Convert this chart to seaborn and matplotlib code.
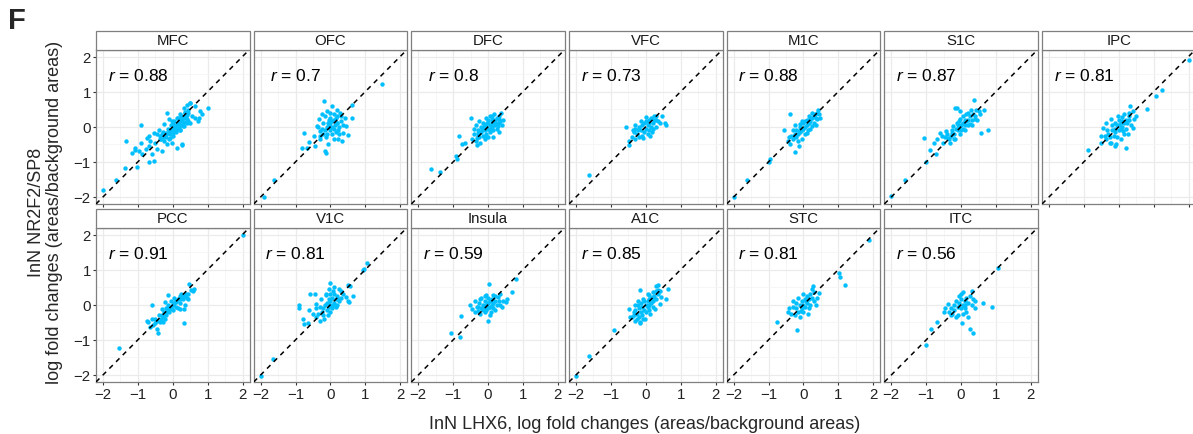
import matplotlib
matplotlib.use("Agg")
import matplotlib.pyplot as plt
import numpy as np
import pandas as pd
import seaborn as sns
from matplotlib.patches import Rectangle

# ---------------- data ----------------
areas = ["MFC", "OFC", "DFC", "VFC", "M1C", "S1C", "IPC",
         "PCC", "V1C", "Insula", "A1C", "STC", "ITC"]
r_values = [0.88, 0.7, 0.8, 0.73, 0.88, 0.87, 0.81,
            0.91, 0.81, 0.59, 0.85, 0.81, 0.56]
tick_values = [-2, -1, 0, 1, 2]
tick_labels = ["\u22122", "\u22121", "0", "1", "2"]

MFC = [(-2.0, -1.81), (-1.64, -1.53), (-1.36, -1.17), (-1.03, -1.15), (-1.33, -0.40), (-0.92, 0.04),
       (-0.68, -1.0), (-0.54, -0.97), (0.27, -0.52), (1.01, 0.52), (0.49, 0.68), (0.75, 0.26), (0.5, 0.11),
       (-1.07, -0.6), (-0.92, -0.47), (-0.97, -0.69), (-1.08, -0.67), (-0.88, -0.79), (-1.16, -0.74),
       (-0.78, -0.64), (-0.69, -0.55), (-0.64, -0.41), (-0.73, -0.31), (-0.5, -0.46), (-0.45, -0.64),
       (-0.59, -0.79), (-0.31, -0.69), (-0.26, -0.41), (-0.36, -0.27), (-0.2, -0.17), (-0.07, -0.31),
       (-0.17, -0.5), (-0.03, -0.46), (0.12, -0.6), (0.26, -0.5), (0.02, -0.17), (0.07, -0.03),
       (0.16, 0.11), (0.26, 0.21), (0.35, 0.40), (0.45, 0.49), (0.5, 0.68), (0.64, 0.59), (0.54, 0.3),
       (0.4, 0.11), (0.31, 0.02), (0.21, -0.08), (-0.17, 0.4), (-0.12, 0.21), (-0.26, 0.07), (-0.4, -0.08),
       (-0.55, -0.17), (-0.69, -0.27), (0.78, 0.44), (0.83, 0.35), (0.73, 0.16), (0.64, 0.26), (0.12, 0.26),
       (0.21, 0.35), (0.31, 0.54), (0.4, 0.63), (0.0, 0.07), (-0.31, -0.22), (-0.45, -0.22), (-0.36, -0.36),
       (-0.25, -0.28), (-0.2, -0.22), (-0.15, -0.18), (-0.1, -0.12), (-0.05, -0.08), (0.0, -0.02),
       (0.05, 0.02), (0.1, 0.06), (0.15, 0.12), (0.2, 0.17), (0.25, 0.22), (0.3, 0.26), (0.35, 0.3),
       (0.4, 0.33), (0.45, 0.38), (-0.18, -0.3), (-0.08, -0.22), (0.02, -0.12), (0.12, -0.04), (0.22, 0.05),
       (0.32, 0.14), (0.42, 0.22), (-0.28, -0.15), (-0.15, -0.05), (-0.05, 0.05), (0.05, 0.15), (0.15, 0.25),
       (0.25, 0.32), (0.35, 0.42), (0.0, -0.25), (-0.1, -0.35), (0.1, -0.15), (0.2, -0.1), (0.3, 0.02),
       (0.45, 0.15), (-0.35, -0.35), (0.18, 0.0), (0.28, 0.12), (0.38, 0.24), (-0.02, 0.15), (0.08, -0.1)]

OFC = [(-1.9, -2.0), (-1.62, -1.53), (1.48, 1.23), (-0.17, 0.73), (-0.75, -0.17), (-0.13, -0.74),
       (0.62, 0.61), (0.51, -0.24), (0.63, 0.24), (-0.48, -0.27), (-0.6, -0.44), (-0.67, -0.6),
       (-0.81, -0.6), (-0.43, -0.55), (-0.29, -0.36), (-0.15, -0.69), (-0.06, -0.5), (0.09, -0.36),
       (0.23, -0.36), (0.32, -0.41), (0.37, -0.17), (0.46, 0.02), (0.42, 0.26), (0.27, 0.4), (0.18, 0.49),
       (0.04, 0.59), (-0.1, 0.45), (-0.25, 0.35), (-0.34, 0.21), (-0.39, 0.02), (-0.29, -0.12),
       (-0.2, -0.2), (-0.15, -0.1), (-0.1, 0.0), (-0.05, 0.05), (0.0, 0.1), (0.05, 0.15), (0.1, 0.2),
       (0.15, 0.25), (0.2, 0.1), (0.25, 0.0), (0.1, -0.05), (0.0, -0.1), (-0.1, -0.2), (0.05, -0.2),
       (0.15, -0.15), (0.3, 0.15), (-0.2, 0.1), (-0.25, -0.05), (0.0, 0.25), (-0.05, 0.2), (0.1, 0.35),
       (0.2, 0.3), (0.3, 0.3), (-0.3, -0.25), (0.25, -0.2), (0.05, 0.0), (-0.12, -0.3), (0.12, 0.05),
       (-0.02, -0.02), (0.18, 0.12), (-0.08, 0.12), (0.22, -0.08), (0.35, 0.05), (-0.35, 0.0),
       (0.0, 0.4), (-0.15, 0.3)]

DFC = [(-1.64, -1.21), (-1.38, -1.29), (-0.92, -0.84), (-0.9, -0.93), (-0.84, -0.25), (-0.76, -0.48),
       (-0.65, -0.46), (-0.48, 0.26), (0.38, 0.4), (-0.31, -0.53), (-0.45, -0.35), (-0.4, -0.2),
       (-0.35, -0.4), (-0.3, -0.25), (-0.3, -0.1), (-0.25, -0.3), (-0.2, -0.15), (-0.2, 0.0), (-0.15, -0.25),
       (-0.15, 0.1), (-0.1, -0.1), (-0.1, 0.05), (-0.05, -0.2), (-0.05, 0.0), (0.0, -0.05), (0.0, 0.1),
       (0.0, 0.2), (0.05, -0.15), (0.05, 0.05), (0.1, 0.0), (0.1, 0.15), (0.1, 0.3), (0.15, -0.1),
       (0.15, 0.1), (0.2, 0.05), (0.2, 0.2), (0.25, 0.25), (0.25, -0.05), (0.3, 0.1), (0.3, 0.3),
       (0.35, 0.15), (0.4, 0.05), (0.42, 0.2), (-0.35, 0.05), (-0.25, 0.15), (-0.4, -0.05), (0.05, 0.3),
       (-0.05, 0.25), (0.15, -0.3), (0.3, -0.15), (-0.1, -0.35), (0.0, -0.3), (-0.22, -0.45), (0.18, 0.35),
       (0.08, -0.05), (-0.12, -0.02), (0.22, 0.12), (-0.28, -0.18), (0.32, 0.22), (-0.02, 0.12),
       (-0.18, -0.08), (0.12, 0.22), (-0.08, -0.28), (0.28, 0.02), (-0.32, -0.32)]

VFC = [(-1.62, -1.38), (-0.57, -0.01), (-0.48, -0.41), (-0.49, -0.52), (0.46, 0.3), (0.58, 0.05),
       (0.55, 0.12), (0.3, 0.32), (-0.4, -0.3), (-0.35, -0.15), (-0.3, -0.35), (-0.3, -0.05), (-0.25, -0.2),
       (-0.2, -0.3), (-0.2, 0.0), (-0.15, -0.1), (-0.1, -0.25), (-0.1, 0.05), (-0.05, -0.15), (-0.05, 0.1),
       (0.0, -0.05), (0.0, 0.15), (0.05, -0.2), (0.05, 0.05), (0.1, 0.2), (0.1, -0.1), (0.15, 0.0),
       (0.15, 0.25), (0.2, 0.1), (0.2, -0.05), (0.25, 0.2), (0.25, 0.3), (0.3, 0.0), (0.35, 0.15),
       (-0.38, -0.1), (-0.15, 0.15), (0.0, 0.28), (0.12, -0.25), (-0.08, -0.33), (0.08, 0.12),
       (-0.22, -0.1), (0.3, 0.2), (0.4, 0.1), (-0.3, 0.05), (0.18, -0.15)]

M1C = [(-2.0, -2.0), (-1.62, -1.53), (-1.0, -1.0), (-0.95, -0.91), (-0.24, -0.72), (-0.57, -0.08),
       (-0.38, 0.35), (0.47, 0.26), (-0.43, -0.41), (-0.38, -0.5), (-0.28, -0.27), (-0.14, -0.12),
       (-0.09, 0.07), (0.05, 0.16), (0.19, 0.26), (0.33, 0.35), (0.38, 0.21), (0.24, 0.02), (0.09, -0.17),
       (-0.05, -0.36), (-0.14, -0.55), (-0.3, -0.35), (-0.25, -0.2), (-0.2, -0.3), (-0.2, -0.1),
       (-0.15, -0.2), (-0.1, -0.15), (-0.1, 0.0), (-0.05, -0.1), (0.0, -0.05), (0.0, 0.1), (0.05, 0.0),
       (0.1, 0.05), (0.1, 0.2), (0.15, 0.1), (0.2, 0.15), (0.25, 0.25), (0.3, 0.3), (0.35, 0.25),
       (0.4, 0.4), (0.45, 0.35), (-0.35, -0.25), (-0.3, -0.1), (-0.05, 0.15), (0.15, 0.3), (0.2, -0.05),
       (0.3, 0.12), (-0.15, -0.4), (0.05, -0.2), (0.25, 0.4), (0.42, 0.48), (-0.42, -0.3), (-0.25, 0.05),
       (0.12, -0.08), (0.35, 0.05)]

S1C = [(-2.0, -1.98), (-1.62, -1.53), (-1.01, -1.0), (-1.07, -0.31), (-0.89, -0.65), (-0.72, -0.77),
       (0.37, 0.76), (0.77, -0.1), (0.56, -0.17), (0.67, 0.49), (-0.18, 0.53), (-0.61, -0.17), (-0.7, -0.36),
       (-0.51, -0.45), (-0.37, -0.31), (-0.42, -0.12), (-0.27, -0.17), (-0.23, 0.02), (-0.13, 0.11),
       (-0.04, 0.21), (0.06, 0.3), (0.2, 0.4), (0.29, 0.49), (0.43, 0.49), (0.53, 0.35), (0.39, 0.21),
       (0.25, 0.07), (0.1, -0.08), (-0.04, -0.22), (-0.18, -0.36), (-0.32, -0.45), (-0.13, 0.54),
       (-0.04, 0.45), (-0.79, -0.45), (-0.3, -0.25), (-0.25, -0.1), (-0.2, -0.2), (-0.15, -0.05),
       (-0.1, -0.1), (-0.1, 0.05), (-0.05, 0.0), (0.0, 0.05), (0.0, -0.1), (0.05, 0.1), (0.1, 0.05),
       (0.1, 0.2), (0.15, 0.15), (0.2, 0.2), (0.2, 0.05), (0.25, 0.3), (0.3, 0.2), (0.35, 0.35),
       (-0.35, -0.35), (-0.4, -0.2), (0.4, 0.3), (0.45, 0.2), (-0.05, 0.15), (0.3, 0.05), (-0.2, -0.35),
       (0.05, -0.05), (0.15, 0.35), (-0.45, -0.3), (0.5, 0.45), (-0.55, -0.25)]

IPC = [(2.0, 1.9), (1.23, 1.04), (1.08, 0.87), (0.82, 0.51), (0.33, 0.59), (-0.88, -0.66), (0.21, -0.61),
       (-0.5, -0.45), (0.5, 0.3), (0.4, 0.45), (-0.45, -0.03), (-0.5, -0.27), (-0.36, -0.36), (-0.22, -0.45),
       (-0.08, -0.5), (0.07, -0.36), (0.26, -0.22), (0.4, -0.03), (0.44, 0.21), (0.3, 0.4), (0.16, 0.35),
       (-0.03, 0.3), (-0.22, 0.21), (-0.36, 0.11), (-0.12, -0.55), (-0.3, -0.2), (-0.25, -0.3), (-0.2, -0.1),
       (-0.15, -0.25), (-0.1, -0.05), (-0.1, -0.15), (-0.05, 0.05), (0.0, -0.1), (0.0, 0.05), (0.05, 0.1),
       (0.05, -0.05), (0.1, 0.0), (0.1, 0.15), (0.15, 0.1), (0.2, 0.2), (0.2, -0.05), (0.25, 0.1),
       (0.3, 0.2), (-0.35, -0.1), (-0.2, 0.05), (0.0, 0.2), (-0.05, -0.3), (0.15, -0.2), (0.35, 0.05),
       (-0.4, -0.25), (0.08, 0.28), (-0.12, 0.12), (0.28, 0.3), (0.12, -0.12), (-0.25, -0.45)]

PCC = [(2.0, 2.0), (-1.55, -1.23), (-0.59, -0.02), (0.31, -0.52), (0.48, 0.58), (0.6, 0.46), (-0.43, -0.8),
       (-0.73, -0.47), (0.58, 0.4), (-0.7, -0.5), (-0.65, -0.64), (-0.56, -0.59), (-0.46, -0.69),
       (-0.37, -0.5), (-0.51, -0.4), (-0.27, -0.35), (-0.18, -0.21), (-0.09, -0.11), (0.01, -0.02),
       (0.1, 0.08), (0.2, 0.17), (0.29, 0.27), (0.39, 0.31), (0.53, 0.41), (-0.13, 0.27), (-0.23, 0.08),
       (-0.32, -0.11), (0.2, -0.11), (0.34, -0.02), (0.43, 0.17), (0.32, -0.11), (-0.3, -0.3),
       (-0.25, -0.2), (-0.2, -0.3), (-0.2, -0.1), (-0.15, -0.15), (-0.1, -0.2), (-0.1, -0.05), (-0.05, -0.1),
       (0.0, 0.0), (0.0, -0.15), (0.05, 0.05), (0.1, -0.05), (0.1, 0.1), (0.15, 0.15), (0.2, 0.05),
       (0.25, 0.2), (0.3, 0.15), (-0.35, -0.4), (-0.4, -0.3), (0.05, 0.2), (0.35, 0.25), (-0.15, 0.0),
       (-0.45, -0.45), (0.15, -0.1), (0.25, 0.3), (-0.28, -0.48), (0.4, 0.2), (-0.05, 0.12),
       (-0.6, -0.4), (-0.52, -0.52), (0.45, 0.3), (-0.22, -0.4), (0.22, 0.25)]

V1C = [(-2.0, -2.02), (-1.64, -1.54), (1.06, 1.2), (0.92, 1.0), (0.96, 1.03), (-0.91, 0.0), (-0.9, -0.1),
       (-0.78, -0.42), (-0.77, -0.55), (-0.64, -0.52), (-0.58, 0.3), (-0.43, 0.3), (0.0, 0.62), (0.64, 0.24),
       (0.49, 0.1), (0.52, 0.08), (0.5, 0.55), (0.55, 0.52), (-0.6, -0.16), (-0.5, -0.26), (-0.41, -0.35),
       (-0.31, -0.45), (-0.17, -0.4), (-0.41, 0.03), (-0.26, 0.17), (-0.12, 0.27), (-0.03, 0.46),
       (0.11, 0.5), (0.26, 0.46), (0.35, 0.31), (0.44, 0.22), (0.21, 0.17), (0.07, -0.02), (-0.25, -0.2),
       (-0.2, -0.1), (-0.2, -0.3), (-0.15, 0.0), (-0.1, -0.15), (-0.1, 0.05), (-0.05, -0.05), (-0.05, 0.15),
       (0.0, 0.0), (0.0, 0.1), (0.05, -0.1), (0.05, 0.2), (0.1, 0.05), (0.1, 0.3), (0.15, 0.15),
       (0.2, 0.25), (0.25, 0.1), (0.3, 0.2), (-0.3, -0.05), (-0.35, -0.25), (0.0, -0.2), (0.15, -0.05),
       (-0.12, 0.3), (0.3, 0.38), (-0.4, -0.1), (0.08, 0.38), (-0.08, -0.3), (0.2, 0.0), (-0.02, 0.32)]

Insula = [(-1.05, -0.81), (-0.81, -0.93), (-0.79, -0.32), (0.81, 0.74), (0.03, 0.6), (0.0, -0.47),
          (0.69, 0.36), (0.52, 0.08), (0.55, 0.15), (-0.52, -0.02), (-0.47, -0.11), (-0.38, -0.21),
          (-0.24, -0.26), (-0.09, -0.21), (0.05, -0.3), (0.19, -0.16), (0.33, -0.02), (0.43, 0.12),
          (0.28, 0.22), (0.14, 0.27), (-0.05, 0.27), (-0.24, 0.17), (-0.38, 0.12), (-0.33, -0.07),
          (-0.2, -0.1), (-0.15, 0.0), (-0.15, -0.15), (-0.1, 0.1), (-0.1, -0.05), (-0.05, 0.0),
          (-0.05, -0.15), (0.0, 0.05), (0.0, -0.1), (0.05, 0.1), (0.05, -0.05), (0.1, 0.0), (0.1, 0.15),
          (0.15, 0.05), (0.15, -0.1), (0.2, 0.1), (0.25, 0.0), (-0.25, 0.05), (-0.3, -0.05), (0.0, 0.2),
          (-0.2, 0.2), (0.2, 0.25), (0.3, 0.1), (-0.28, -0.18), (0.08, -0.22), (-0.08, 0.25), (0.35, 0.3),
          (0.4, -0.05)]

A1C = [(-2.0, -2.02), (-1.62, -1.47), (-0.92, -0.73), (-0.47, -0.11), (-0.45, -0.35), (0.65, 0.44),
       (0.58, 0.17), (-0.16, 0.41), (-0.16, -0.51), (0.35, 0.55), (0.3, 0.52), (-0.35, -0.21), (-0.4, -0.35),
       (-0.3, -0.45), (-0.16, -0.5), (-0.02, -0.4), (0.12, -0.26), (0.26, -0.11), (0.41, 0.03), (0.45, 0.22),
       (0.36, 0.41), (0.22, 0.36), (0.08, 0.27), (-0.07, 0.17), (-0.21, 0.12), (-0.3, -0.02),
       (-0.25, -0.25), (-0.2, -0.1), (-0.2, -0.35), (-0.15, -0.2), (-0.1, -0.05), (-0.1, -0.3),
       (-0.05, -0.15), (0.0, 0.0), (0.0, -0.2), (0.05, -0.05), (0.05, 0.1), (0.1, 0.0), (0.1, 0.15),
       (0.15, 0.05), (0.15, 0.2), (0.2, 0.1), (0.25, 0.25), (0.3, 0.15), (-0.3, -0.15), (-0.05, 0.1),
       (0.2, -0.05), (0.35, 0.3), (-0.15, 0.05), (-0.25, -0.4), (0.4, 0.4), (0.05, 0.3), (-0.35, -0.3),
       (0.28, 0.38), (-0.08, -0.42), (0.1, -0.15), (-0.22, 0.0), (0.22, 0.22)]

STC = [(-0.76, -0.49), (-0.19, -0.71), (1.89, 1.84), (1.02, 0.89), (1.05, 0.79), (1.2, 0.57), (0.45, 0.34),
       (0.28, 0.53), (-0.45, -0.2), (-0.4, -0.1), (-0.35, -0.25), (-0.3, -0.05), (-0.25, -0.3), (-0.2, -0.1),
       (-0.2, 0.05), (-0.15, -0.2), (-0.1, 0.0), (-0.1, -0.35), (-0.05, -0.1), (-0.05, 0.1), (0.0, 0.0),
       (0.0, -0.2), (0.05, 0.15), (0.05, -0.05), (0.1, 0.05), (0.1, 0.25), (0.15, -0.1), (0.15, 0.15),
       (0.2, 0.3), (0.2, 0.0), (0.25, 0.2), (0.3, 0.35), (0.3, 0.1), (0.35, 0.0), (-0.3, 0.1), (0.0, 0.3),
       (0.12, -0.25), (-0.15, 0.2), (0.25, 0.45), (0.38, 0.2), (-0.08, -0.18), (0.08, 0.1)]

ITC = [(1.07, 1.05), (-1.01, -1.16), (-0.86, -0.7), (-0.7, -0.5), (0.25, -0.7), (0.34, -0.8), (0.89, -0.05),
       (0.64, 0.06), (0.06, 0.36), (0.32, 0.38), (0.04, -0.52), (-0.49, -0.21), (-0.37, 0.03), (0.4, 0.1),
       (-0.45, -0.1), (-0.35, -0.2), (-0.3, -0.1), (-0.25, -0.25), (-0.2, 0.0), (-0.2, -0.15), (-0.15, 0.1),
       (-0.1, -0.05), (-0.1, -0.3), (-0.05, 0.05), (0.0, -0.1), (0.0, 0.15), (0.05, 0.0), (0.05, -0.25),
       (0.1, 0.1), (0.1, -0.1), (0.15, 0.2), (0.15, -0.2), (0.2, 0.05), (0.25, 0.25), (0.3, 0.0),
       (0.35, 0.15), (-0.05, 0.25), (0.2, -0.35), (-0.3, -0.3), (0.0, 0.3), (0.12, 0.0), (-0.15, -0.35),
       (0.4, -0.1)]

area_points = {"MFC": MFC, "OFC": OFC, "DFC": DFC, "VFC": VFC, "M1C": M1C, "S1C": S1C, "IPC": IPC,
               "PCC": PCC, "V1C": V1C, "Insula": Insula, "A1C": A1C, "STC": STC, "ITC": ITC}

rows = []
for a in areas:
    for (x, y) in area_points[a]:
        rows.append((a, x, y))
df = pd.DataFrame(rows, columns=["area", "lhx6", "nr2f2"])

# ---------------- style ----------------
sns.set_theme(style="white")
plt.rcParams["font.family"] = ["Liberation Sans", "DejaVu Sans"]
plt.rcParams["mathtext.fontset"] = "custom"
plt.rcParams["mathtext.rm"] = "Liberation Sans"
plt.rcParams["mathtext.it"] = "Liberation Sans:italic"
plt.rcParams["axes.unicode_minus"] = True

W, H = 1193.0, 435.0
PT_COLOR = "#00BFFF"
BORDER = "#7F7F7F"

g = sns.FacetGrid(df, col="area", col_order=areas, col_wrap=7, sharex=False, sharey=False,
                  height=1.55, aspect=1, despine=False)
g.map_dataframe(sns.scatterplot, x="lhx6", y="nr2f2", color=PT_COLOR, s=10, linewidth=0, zorder=3)
fig = g.figure
fig.set_size_inches(W / 100, H / 100)
g.set_titles("")
g.set_axis_labels("", "")

col_pitch = 157.67
panel_w = 153.5
row_tops = [50.5, 228.5]
panel_h = 154.5
strip_h = 18.5

for i, ax in enumerate(g.axes.flat):
    if i >= len(areas):
        ax.set_visible(False)
        continue
    r, c = divmod(i, 7)
    left = 96 + c * col_pitch
    top = row_tops[r]
    ax.set_position([left / W, 1 - (top + panel_h) / H, panel_w / W, panel_h / H])
    ax.set_xlim(-2.2, 2.2)
    ax.set_ylim(-2.2, 2.2)
    ax.set_xticks(tick_values)
    ax.set_yticks(tick_values)
    ax.set_xticks([-1.5, -0.5, 0.5, 1.5], minor=True)
    ax.set_yticks([-1.5, -0.5, 0.5, 1.5], minor=True)
    ax.set_xticklabels(tick_labels)
    ax.set_yticklabels(tick_labels)
    ax.grid(True, which="major", color="#EBEBEB", linewidth=0.9, zorder=0)
    ax.grid(True, which="minor", color="#F5F5F5", linewidth=0.6, zorder=0)
    ax.set_axisbelow(True)
    for sp in ax.spines.values():
        sp.set_color(BORDER)
        sp.set_linewidth(0.9)
    ax.tick_params(axis="x", which="major", bottom=True, length=2.2, width=0.8, color="#333333",
                   labelbottom=(r == 1), labelsize=10.8, labelcolor="#222222", pad=1.5)
    ax.tick_params(axis="y", which="major", left=(c == 0), length=2.2, width=0.8, color="#333333",
                   labelleft=(c == 0), labelsize=10.8, labelcolor="#222222", pad=1.5)
    ax.tick_params(which="minor", length=0)
    ax.axline((0, 0), slope=1, color="black", linewidth=1.1, linestyle=(0, (3.2, 3.0)), zorder=4)
    ax.text(-1.0, 1.47, f"$r$ = {r_values[i]}", ha="center", va="center", fontsize=12.5,
            color="black", zorder=5)
    # strip
    sh = strip_h / panel_h
    ax.add_patch(Rectangle((0, 1), 1, sh, transform=ax.transAxes, clip_on=False,
                           facecolor="white", edgecolor=BORDER, linewidth=0.9, zorder=5))
    ax.text(0.5, 1 + sh / 2, areas[i], transform=ax.transAxes, ha="center", va="center",
            fontsize=10.8, color="#1A1A1A", zorder=6)

fig.text(8 / W, 1 - 29 / H, "F", fontsize=21, fontweight="bold", ha="left", va="baseline")
fig.text(645 / W, 1 - 425 / H, "InN LHX6, log fold changes (areas/background areas)",
         ha="center", va="center", fontsize=13)
fig.text(45.5 / W, 1 - 212 / H, "InN NR2F2/SP8\nlog fold changes (areas/background areas)",
         ha="center", va="center", rotation=90, fontsize=13, linespacing=1.1, multialignment="center")

fig.savefig("out.png", dpi=100)
